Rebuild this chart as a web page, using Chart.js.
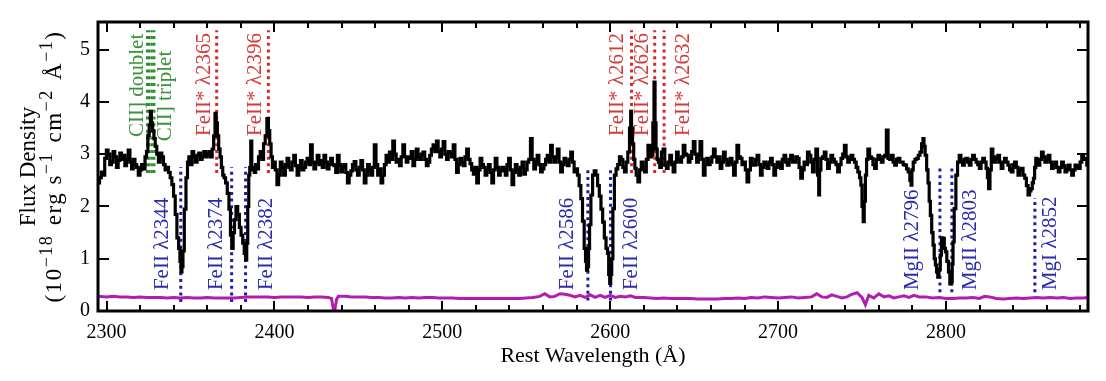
<!DOCTYPE html>
<html><head><meta charset="utf-8">
<script src="https://cdn.jsdelivr.net/npm/chart.js@4/dist/chart.umd.min.js"></script>
<style>html,body{margin:0;padding:0;background:#fff;}#wrap{width:1106px;height:381px;}</style>
</head><body><div id="wrap"><canvas id="c" width="1106" height="381"></canvas></div>
<script>
// ---------------- DATA ----------------
const wave = [2295.2,2296.4,2297.4,2298.4,2299.4,2300.4,2301.4,2302.4,2303.4,2304.4,2305.4,2306.4,2307.4,2308.4,2309.4,2310.4,2311.4,2312.4,2313.4,2314.4,2315.4,2316.4,2317.4,2318.4,2319.4,2320.4,2321.4,2322.4,2323.4,2324.2,2325,2325.8,2326.4,2327,2327.8,2328.6,2329.4,2330.4,2331.4,2332.4,2333.4,2334.4,2335.4,2336.4,2337.4,2338.4,2339.4,2340.4,2341.4,2342.4,2343.4,2344,2344.6,2345.2,2345.8,2346.8,2347.8,2348.6,2349.4,2350.4,2351.4,2352.4,2353.4,2354.4,2355.4,2356.4,2357.4,2358.4,2359.4,2360.4,2361.4,2362.4,2363.4,2364.2,2365,2365.6,2366.4,2367.2,2368,2368.8,2369.6,2370.4,2371.4,2372.4,2373.4,2374.2,2375,2375.8,2376.6,2377.6,2378.6,2379.6,2380.6,2381.6,2382.4,2383.2,2383.8,2384.4,2385,2385.6,2386.2,2386.8,2387.6,2388.4,2389.2,2390,2391,2392,2393,2394,2395,2396,2396.8,2397.6,2398.4,2399.2,2400,2401,2402,2403,2404,2405,2406,2407,2408,2409,2410,2411,2412,2413,2414,2415,2416,2417,2418,2419,2420,2421,2422,2423,2424,2425,2426,2427,2428,2429,2430,2431,2432,2433,2434,2435,2436,2437,2438,2439,2440,2441,2442,2443,2444,2445,2446,2447,2448,2449,2450,2451,2452,2453,2454,2455,2456,2457,2458,2459,2460,2461,2462,2463,2464,2465,2466,2467,2468,2469,2470,2471,2472,2473,2474,2475,2476,2477,2478,2479,2480,2481,2482,2483,2484,2485,2486,2487,2488,2489,2490,2491,2492,2493,2494,2495,2496,2497,2498,2499,2500,2501,2502,2503,2504,2505,2506,2507,2508,2509,2510,2511,2512,2513,2514,2515,2516,2517,2518,2519,2520,2521,2522,2523,2524,2525,2526,2527,2528,2529,2530,2531,2532,2533,2534,2535,2536,2537,2538,2539,2540,2541,2542,2543,2544,2545,2546,2547,2548,2549,2550,2551,2552,2553,2554,2555,2556,2557,2558,2559,2560,2561,2562,2563,2564,2565,2566,2567,2568,2569,2570,2571,2572,2573,2574,2575,2576,2577,2578,2579,2580,2581,2582,2583,2584,2585,2585.6,2586.2,2586.8,2587.4,2588,2589,2590,2591,2592,2593,2594,2595,2596,2597,2598,2598.8,2599.4,2600,2600.6,2601.2,2602,2603,2604,2605,2606,2607,2608,2609,2610,2611,2612,2612.4,2613,2613.6,2614.4,2615,2616,2617,2618,2619,2620,2621,2622,2623,2624,2625,2625.8,2626.4,2627,2627.6,2628.4,2629,2630,2631,2632,2633,2634,2635,2636,2637,2638,2639,2640,2641,2642,2643,2644,2645,2646,2647,2648,2649,2650,2651,2652,2653,2654,2655,2656,2657,2658,2659,2660,2661,2662,2663,2664,2665,2666,2667,2668,2669,2670,2671,2672,2673,2674,2675,2676,2677,2678,2679,2680,2681,2682,2683,2684,2685,2686,2687,2688,2689,2690,2691,2692,2693,2694,2695,2696,2697,2698,2699,2700,2701,2702,2703,2704,2705,2706,2707,2708,2709,2710,2711,2712,2713,2714,2715,2716,2717,2718,2719,2720,2721,2722,2723,2724,2724.4,2725,2726,2727,2728,2729,2730,2731,2732,2733,2734,2735,2736,2737,2738,2739,2740,2741,2742,2743,2744,2745,2746,2747,2748,2749,2749.6,2750.4,2751,2751.6,2752.4,2753,2754,2755,2756,2757,2758,2759,2760,2761,2762,2763,2764,2765,2766,2767,2768,2769,2770,2771,2772,2773,2774,2775,2776,2777,2778,2779,2779.4,2780,2781,2782,2783,2784,2785,2786,2786.6,2787.2,2788,2789,2789.6,2790.4,2791,2792,2792.6,2793.4,2794,2794.8,2795.4,2796.2,2797,2797.6,2798.6,2799.4,2800,2801,2802,2802.6,2803.4,2804,2804.4,2805.4,2806.4,2807.4,2808.4,2809.4,2810.4,2811.4,2812.4,2813.4,2814.4,2815.4,2816.4,2817.4,2818.4,2819.4,2820.4,2821.4,2822.4,2823.4,2824.4,2825,2825.8,2826.6,2827.4,2828.4,2829.4,2830.4,2831.4,2832.4,2833.4,2834.4,2835.4,2836.4,2837.4,2838.4,2839.4,2840.4,2841.4,2842.4,2843.4,2844.4,2845.4,2846.4,2847.4,2848.4,2849.4,2850.2,2851,2851.8,2852.4,2853.2,2853.8,2854.6,2855.4,2856.4,2857.4,2858.4,2859.4,2860.4,2861.4,2862.4,2863.4,2864.4,2865.4,2866.4,2867.4,2868.4,2869.4,2870.4,2871.4,2872.4,2873.4,2874.4,2875.4,2876.4,2877.4,2878.4,2879.4,2880.4,2881.4,2882.4,2883.4,2884.4];
const flux = [2.45,2.55,2.66,2.6,2.92,3.08,3.0,2.8,2.85,3.05,2.95,2.75,2.88,3.02,2.9,2.98,2.78,2.9,3.08,2.85,2.72,2.9,2.8,2.75,2.6,2.7,2.8,2.72,2.95,3.05,3.36,3.55,3.82,3.6,3.45,3.3,3.15,3.0,2.85,3.02,2.95,2.8,2.7,2.75,2.65,2.55,2.42,2.2,1.85,1.4,1.2,0.95,0.75,0.85,1.15,1.95,2.55,2.85,2.95,2.8,3.05,2.95,2.85,2.98,3.02,2.9,2.95,3.05,2.95,3.0,3.05,2.95,3.1,3.35,3.78,3.6,3.35,3.1,2.95,2.75,2.6,2.55,2.45,2.25,1.95,1.45,1.2,1.5,1.75,2.0,1.85,1.6,1.45,1.3,1.1,0.98,1.3,2.0,2.6,2.75,3.25,2.7,2.75,2.65,2.8,2.72,2.95,3.05,2.9,3.2,3.35,3.68,3.45,3.2,2.95,2.75,2.85,2.7,2.42,2.6,2.85,2.75,2.6,2.8,2.92,2.75,2.7,2.85,2.98,2.78,2.6,2.75,2.88,2.7,2.75,2.85,2.92,2.8,3.18,2.85,2.72,2.85,2.98,2.8,2.88,2.75,2.98,2.85,2.72,2.8,2.92,2.8,2.78,2.65,2.98,2.8,2.66,2.75,2.8,2.65,2.45,2.6,2.68,2.8,2.86,2.7,2.6,2.75,2.88,2.7,2.45,2.6,2.8,2.7,2.6,2.75,3.18,2.8,2.6,2.72,2.45,2.6,2.8,2.98,2.85,3.04,2.9,3.25,3.0,2.85,2.9,2.78,2.95,3.18,2.95,2.85,2.95,2.92,3.05,2.78,2.9,3.1,2.95,2.9,3.0,3.04,2.9,2.78,2.85,2.98,3.1,3.18,3.05,3.25,3.05,2.95,3.1,3.24,3.0,2.9,3.05,3.02,2.95,3.18,2.9,2.65,2.8,2.92,2.85,2.78,2.95,3.1,2.9,2.82,2.7,2.62,2.75,2.45,2.7,2.92,2.8,2.75,2.6,2.7,2.8,2.65,2.45,2.7,2.92,2.75,2.6,2.68,2.75,2.7,2.6,2.8,2.92,2.7,2.42,2.65,2.8,2.7,2.6,2.75,2.85,2.62,2.7,2.85,2.9,3.3,2.9,2.72,2.85,2.98,2.8,2.66,2.72,2.8,2.9,2.98,2.85,3.17,2.95,2.85,2.95,3.1,2.85,2.66,2.8,2.92,2.85,2.78,2.9,3.04,2.85,2.66,2.72,2.6,2.4,2.15,1.72,1.2,0.95,0.78,0.85,1.2,1.65,2.22,2.6,2.68,2.6,2.4,2.2,1.95,1.7,1.4,1.2,1.1,0.7,0.53,0.7,1.0,1.96,2.6,2.72,2.8,2.95,2.9,2.75,2.66,2.85,3.04,3.5,3.82,3.5,3.2,2.9,2.73,2.6,2.47,2.7,2.85,2.75,2.66,2.9,3.17,2.95,2.98,3.6,4.38,3.6,3.1,2.9,2.85,2.75,3.04,3.1,2.79,2.73,2.85,2.98,2.8,2.66,2.85,3.04,2.9,2.85,2.95,3.17,3.0,2.98,2.85,2.92,3.05,3.24,3.0,2.85,3.0,3.24,2.9,2.6,2.8,2.92,2.8,2.85,2.95,3.1,2.95,2.85,2.95,2.73,2.85,3.04,2.9,2.79,2.85,2.92,2.8,2.6,2.85,3.17,2.95,2.92,2.8,2.85,2.7,2.47,2.7,2.92,2.8,2.79,2.9,2.98,2.8,2.6,2.75,2.85,2.8,2.73,2.85,2.92,2.8,2.6,2.75,2.85,2.8,2.73,2.9,2.98,2.85,2.79,2.9,2.98,2.85,2.85,2.95,2.92,2.75,2.54,2.7,2.85,2.8,3.04,2.98,2.85,2.66,2.9,3.1,2.6,2.22,2.7,2.92,2.95,3.04,2.9,2.73,2.85,2.98,2.9,2.85,2.8,2.66,2.8,2.92,3.0,3.17,2.95,2.85,2.9,2.98,2.9,2.85,2.75,2.66,2.55,2.41,2.0,1.71,2.1,2.6,2.9,3.1,2.95,2.92,2.8,2.73,2.9,2.98,2.9,2.85,2.95,2.98,3.46,2.92,2.9,2.98,2.85,2.79,2.9,2.92,2.85,2.85,2.8,2.79,2.72,2.66,2.5,2.41,2.7,2.85,2.9,2.92,2.98,3.04,3.2,3.3,3.15,2.98,2.7,2.45,2.1,1.83,1.5,1.26,1.0,0.88,0.75,0.65,0.8,1.07,1.4,1.39,1.2,1.13,0.95,0.75,0.52,0.56,0.9,1.32,1.96,2.6,2.85,2.98,2.85,2.79,2.9,2.92,2.85,2.79,2.9,2.98,2.9,2.85,2.8,2.73,2.85,2.92,2.85,2.73,2.55,2.34,2.7,3.1,2.95,2.85,2.92,2.98,2.85,2.73,2.85,2.92,2.85,2.79,2.7,2.66,2.8,2.85,2.75,2.6,2.7,2.73,2.6,2.54,2.4,2.22,2.3,2.34,2.45,2.54,2.75,2.92,2.85,2.79,2.9,3.04,2.95,2.85,2.9,2.98,2.85,2.73,2.8,2.85,2.75,2.66,2.75,2.85,2.78,2.66,2.72,2.79,2.7,2.6,2.7,2.79,2.75,2.73,2.85,2.98,2.9,2.92,2.79];

const errWave = [2295,2300,2304,2308,2312,2316,2320,2324,2328,2332,2336,2340,2344,2348,2352,2356,2360,2364,2368,2372,2376,2380,2384,2388,2392,2396,2400,2404,2408,2412,2416,2420,2424,2428,2432,2434,2435,2436,2437,2438,2442,2446,2450,2454,2458,2462,2466,2470,2474,2478,2482,2486,2490,2494,2498,2502,2506,2510,2514,2518,2522,2526,2530,2534,2538,2542,2546,2550,2554,2558,2561,2564,2567,2570,2573,2576,2579,2582,2585,2588,2591,2594,2597,2600,2603,2606,2609,2612,2615,2620,2624,2628,2632,2636,2640,2644,2648,2652,2656,2660,2664,2668,2672,2676,2680,2684,2688,2692,2696,2700,2704,2708,2712,2716,2720,2723,2726,2729,2732,2735,2738,2741,2744,2747,2750,2752,2754,2757,2760,2763,2766,2769,2772,2775,2778,2781,2784,2788,2792,2796,2800,2804,2808,2812,2816,2820,2823,2826,2830,2834,2838,2842,2846,2850,2854,2858,2862,2866,2870,2874,2878,2882,2884.6];
const errFlux = [0.28,0.27,0.28,0.27,0.27,0.26,0.27,0.26,0.26,0.26,0.25,0.26,0.25,0.26,0.25,0.25,0.26,0.25,0.25,0.25,0.25,0.26,0.27,0.27,0.27,0.27,0.26,0.27,0.27,0.27,0.27,0.26,0.27,0.27,0.26,0.24,0.05,0.03,0.22,0.28,0.28,0.27,0.27,0.27,0.26,0.26,0.25,0.25,0.26,0.25,0.26,0.25,0.26,0.26,0.25,0.25,0.25,0.24,0.24,0.24,0.24,0.24,0.24,0.24,0.24,0.24,0.24,0.25,0.26,0.28,0.33,0.27,0.28,0.33,0.32,0.30,0.27,0.30,0.26,0.31,0.26,0.30,0.26,0.30,0.26,0.28,0.27,0.29,0.26,0.26,0.25,0.24,0.25,0.24,0.24,0.24,0.24,0.23,0.23,0.23,0.23,0.24,0.24,0.25,0.24,0.26,0.25,0.27,0.26,0.25,0.26,0.27,0.25,0.26,0.27,0.33,0.27,0.26,0.31,0.28,0.25,0.27,0.32,0.35,0.26,0.12,0.30,0.25,0.33,0.27,0.29,0.25,0.27,0.29,0.26,0.30,0.27,0.27,0.25,0.26,0.24,0.24,0.25,0.25,0.26,0.24,0.28,0.27,0.24,0.23,0.24,0.25,0.24,0.25,0.26,0.25,0.26,0.25,0.26,0.24,0.25,0.25,0.26];

const xTickValues = [2300,2400,2500,2600,2700,2800];
const yTickValues = [0,1,2,3,4,5];

// marker lines (wavelength, low/high flux, group)
const markerWave  = [2324.2,2325.4,2326.9,2328.4, 2365.6,2396.4,2612.7,2626.5,2632.1, 2344.2,2374.5,2382.8,2586.7,2600.2,2796.4,2803.5,2852.96];
const markerLow   = [2.64,2.64,2.64,2.64, 2.64,2.64,2.64,2.64,2.64, 0.17,0.17,0.17,0.2,0.2,0.36,0.36,0.36];
const markerHigh  = [5.37,5.37,5.37,5.37, 5.37,5.37,5.37,5.37,5.37, 2.75,2.75,2.75,2.75,2.75,2.74,2.74,2.16];
const markerGroup = ['cii','cii','cii','cii','em','em','em','em','em','abs','abs','abs','abs','abs','abs','abs','abs'];

// line labels
const labelText  = ['CII] doublet','CII] triplet','FeII* λ2365','FeII* λ2396','FeII* λ2612','FeII* λ2626','FeII* λ2632','FeII λ2344','FeII λ2374','FeII λ2382','FeII λ2586','FeII λ2600','MgII λ2796','MgII λ2803','MgI λ2852'];
const labelWave  = [2324.2,2328.4,2365.6,2396.4,2612.7,2626.5,2632.1,2344.2,2374.5,2382.8,2586.7,2600.2,2796.4,2803.5,2852.96];
const labelFlux  = [3.33,3.25,3.35,3.35,3.35,3.35,3.35,0.4,0.4,0.4,0.4,0.4,0.4,0.4,0.4];
const labelGroup = ['cii','cii','em','em','em','em','em','abs','abs','abs','abs','abs','abs','abs','abs'];

// ---------------- STYLE ----------------
const labelDx = [-4,17,-7,-7,-9,-7,25,-13,-10,26,-15,26,-22,24,21];
const groupColor = {cii:'#2f8f2f', em:'#d62a2a', abs:'#1c1ca8'};
const textColor  = {cii:'#3a923a', em:'#d43a3a', abs:'#2a2ab0'};
const SERIF = '"Liberation Serif", "Times New Roman", serif';

const datasets = [];
datasets.push({data: wave.map((w,i)=>({x:w,y:flux[i]})), borderColor:'#000', borderWidth:3.2, pointRadius:0, showLine:true, stepped:'middle', order:0, borderJoinStyle:'miter'});
datasets.push({data: errWave.map((w,i)=>({x:w,y:errFlux[i]})), borderColor:'#b21cb2', borderWidth:3, pointRadius:0, showLine:true, tension:0, order:1});
markerWave.forEach((w,i)=>{
  datasets.push({data:[{x:w,y:markerLow[i]},{x:w,y:markerHigh[i]}], borderColor:groupColor[markerGroup[i]], borderWidth:(markerGroup[i]==='cii'?2.4:3), borderDash:[3,3.7], borderCapStyle:'butt', pointRadius:0, showLine:true, order:2});
});

const deco = {
  id:'deco',
  afterDraw(chart){
    const {ctx, chartArea:a, scales:{x,y}} = chart;
    ctx.save();
    // labels
    labelText.forEach((t,i)=>{
      const px = x.getPixelForValue(labelWave[i]) + labelDx[i];
      const py = y.getPixelForValue(labelFlux[i]);
      ctx.save();
      ctx.translate(px,py); ctx.rotate(-Math.PI/2);
      ctx.font = '21px ' + SERIF;
      ctx.fillStyle = textColor[labelGroup[i]];
      ctx.textAlign='left'; ctx.textBaseline='alphabetic';
      ctx.fillText(t,0,0);
      ctx.restore();
    });
    // frame
    ctx.strokeStyle='#000'; ctx.lineWidth=3;
    ctx.strokeRect(a.left,a.top,a.right-a.left,a.bottom-a.top);
    // tick marks
    ctx.lineWidth=2;
    ctx.beginPath();
    for(let v=2300; v<=2880; v+=20){
      const px = Math.round(x.getPixelForValue(v));
      const L = (v%100===0)?10:6;
      ctx.moveTo(px,a.bottom); ctx.lineTo(px,a.bottom-L);
      ctx.moveTo(px,a.top); ctx.lineTo(px,a.top+L);
    }
    yTickValues.forEach(v=>{
      if(v===0) return;
      const py = Math.round(y.getPixelForValue(v));
      ctx.moveTo(a.left,py); ctx.lineTo(a.left+11,py);
      ctx.moveTo(a.right,py); ctx.lineTo(a.right-11,py);
    });
    ctx.stroke();
    // x title
    ctx.fillStyle='#000';
    ctx.font='22px '+SERIF; ctx.textAlign='center'; ctx.textBaseline='alphabetic';
    ctx.fillText('Rest Wavelength (Å)', (a.left+a.right)/2, 362);
    // y title
    const cy = (a.top+a.bottom)/2;
    ctx.save();
    ctx.translate(0,cy); ctx.rotate(-Math.PI/2);
    ctx.textAlign='center';
    ctx.font='23px '+SERIF;
    ctx.fillText('Flux Density', 0, 35);
    const segs = [['(10',0],['−18',1],[' erg s',0],['−1',1],[' cm',0],['−2',1],[' Å',0],['−1',1],[')',0]];
    const mainF='23px '+SERIF, supF='18px '+SERIF;
    if('letterSpacing' in ctx) ctx.letterSpacing='1.5px';
    let natural=0;
    segs.forEach(s=>{ctx.font=s[1]?supF:mainF; natural+=ctx.measureText(s[0]).width;});
    const target=272;
    const gap=Math.max(0,(target-natural)/3);
    let cx=-target/2; ctx.textAlign='left';
    segs.forEach((s,k)=>{
      ctx.font=s[1]?supF:mainF;
      ctx.fillText(s[0], cx, s[1]?52:61);
      cx+=ctx.measureText(s[0]).width + ((s[1] && k<7)?gap:0);
    });
    ctx.restore();
    ctx.restore();
  }
};

new Chart(document.getElementById('c'), {
  type:'scatter',
  data:{datasets},
  options:{
    responsive:false, animation:false, devicePixelRatio:1,
    layout:{padding:{left:0,top:22,right:18,bottom:0}},
    plugins:{legend:{display:false}, tooltip:{enabled:false}},
    scales:{
      x:{type:'linear', min:2294.9, max:2884.6,
         afterBuildTicks:s=>{s.ticks = xTickValues.map(v=>({value:v}));},
         afterFit:s=>{s.height=70;},
         grid:{display:false, drawTicks:false}, border:{display:false},
         ticks:{color:'#000', font:{family:SERIF, size:20}, padding:10, maxRotation:0, autoSkip:false, callback:v=>String(v)}},
      y:{type:'linear', min:0, max:5.53,
         afterBuildTicks:s=>{s.ticks = yTickValues.map(v=>({value:v}));},
         afterFit:s=>{s.width=98;},
         grid:{display:false, drawTicks:false}, border:{display:false},
         ticks:{color:'#000', font:{family:SERIF, size:20}, padding:8, callback:v=>String(v)}}
    }
  },
  plugins:[deco]
});
</script></body></html>
